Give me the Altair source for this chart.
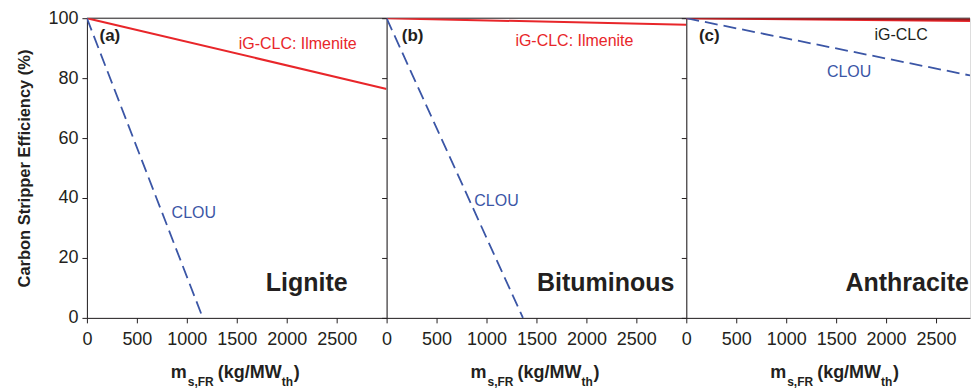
import altair as alt
import pandas as pd

FONT = "Liberation Sans"
RED = "#e8262a"
DARKRED = "#9b1b1e"
BLUE = "#3b56a6"
INK = "#231f20"

# line endpoints (x in kg/MWth, y in %)
a_ig_x = [0, 3000]
a_ig_y = [100, 76.4]
a_clou_x = [0, 1160]
a_clou_y = [100, 0]

b_ig_x = [0, 3000]
b_ig_y = [100, 97.8]
b_clou_x = [0, 1365]
b_clou_y = [100, 0]

c_ig_x = [0, 2840]
c_ig_y = [100, 99.6]
c_ig2_y = [100, 99.1]
c_clou_x = [0, 2840]
c_clou_y = [100, 80.9]

x_ticks = [0, 500, 1000, 1500, 2000, 2500]
y_ticks = [0, 20, 40, 60, 80, 100]

panel_letters = ["(a)", "(b)", "(c)"]
coal_names = ["Lignite", "Bituminous", "Anthracite"]


def line(xs, ys, color, dash=None, width=2.0):
    df = pd.DataFrame({"x": xs, "y": ys})
    kw = dict(color=color, strokeWidth=width, clip=True)
    if dash:
        kw["strokeDash"] = dash
    return alt.Chart(df).mark_line(**kw).encode(x="x:Q", y="y:Q")


def label(text, x, y, color=INK, size=16, bold=False, align="center"):
    return alt.Chart(pd.DataFrame({"x": [x], "y": [y], "t": [text]})).mark_text(
        font=FONT, fontSize=size, fontWeight="bold" if bold else "normal",
        color=color, align=align, baseline="middle"
    ).encode(x="x:Q", y="y:Q", text="t:N")


def xtitle(offset):
    parts = [
        ("m", 0, 18, 0),
        ("s,FR", 17, 12, 8),
        ("(kg/MW", 47, 18, 0),
        ("th", 111, 12, 8),
        (")", 123, 18, 0),
    ]
    layers = []
    for t, dx, fs, dy in parts:
        layers.append(
            alt.Chart(pd.DataFrame({"t": [t]})).mark_text(
                font=FONT, fontSize=fs, fontWeight="bold", color=INK,
                align="left", baseline="alphabetic"
            ).encode(x=alt.value(offset + dx), y=alt.value(360 + dy), text="t:N")
        )
    return layers


def panel(idx, xmax, width, lines, notes):
    xs = alt.Scale(domain=[0, xmax], nice=False, zero=False)
    ys = alt.Scale(domain=[0, 100], nice=False)
    xaxis = alt.Axis(values=x_ticks, title=None, format="d", labelFont=FONT, labelFontSize=18,
                     labelColor=INK, tickColor=INK, domainColor=INK, tickSize=5,
                     labelPadding=8, grid=False, labelFlush=False, labelOverlap=False)
    yaxis = alt.Axis(values=y_ticks, grid=False, tickColor=INK, domainColor=INK,
                     tickSize=5, labelFont=FONT, labelFontSize=18, labelColor=INK,
                     labelPadding=4, labels=(idx == 0), format="d",
                     title="Carbon Stripper Efficiency (%)" if idx == 0 else None,
                     titleFont=FONT, titleFontSize=16.5, titleFontWeight="bold",
                     titleColor=INK, titlePadding=15)
    top = alt.Chart(pd.DataFrame({"y": [100]})).mark_rule(color=INK, strokeWidth=1).encode(
        y=alt.Y("y:Q", scale=ys, axis=yaxis)
    )
    base = alt.Chart(pd.DataFrame({"x": [0], "y": [0]})).mark_point(opacity=0).encode(
        x=alt.X("x:Q", scale=xs, axis=xaxis), y=alt.Y("y:Q", scale=ys, axis=yaxis)
    )
    layers = [base, top] + lines + notes + xtitle(84)
    return alt.layer(*layers).properties(width=width, height=300)


pa = panel(0, 3000, 300,
           [line(a_ig_x, a_ig_y, RED),
            line(a_clou_x, a_clou_y, BLUE, dash=[13, 6], width=1.8)],
           [label(panel_letters[0], 230, 94.2, bold=True, size=17),
            label("iG-CLC: Ilmenite", 2110, 91.3, color=RED),
            label("CLOU", 1070, 35, color=BLUE),
            label(coal_names[0], 2610, 11.7, bold=True, size=25, align="right")])

pb = panel(1, 3000, 300,
           [line(b_ig_x, b_ig_y, RED),
            line(b_clou_x, b_clou_y, BLUE, dash=[13, 6], width=1.8)],
           [label(panel_letters[1], 260, 94.2, bold=True, size=17),
            label("iG-CLC: Ilmenite", 1880, 92.3, color=RED),
            label("CLOU", 1100, 39, color=BLUE),
            label(coal_names[1], 2880, 11.7, bold=True, size=25, align="right")])

pc = panel(2, 2840, 284,
           [line(c_ig_x, c_ig2_y, RED),
            line(c_ig_x, c_ig_y, DARKRED),
            line(c_clou_x, c_clou_y, BLUE, dash=[13, 6], width=1.8)],
           [label(panel_letters[2], 230, 94.2, bold=True, size=17),
            label("iG-CLC", 2150, 94.3),
            label("CLOU", 1630, 82, color=BLUE),
            label(coal_names[2], 2830, 11.7, bold=True, size=25, align="right")])

chart = alt.hconcat(pa, pb, pc, spacing=0, bounds="flush").properties(
    padding={"left": 8, "top": 0, "right": 0, "bottom": 5}
).configure_view(stroke=None).configure(background="white")

chart.save("out.html", embed_options={"renderer": "svg", "actions": False})
